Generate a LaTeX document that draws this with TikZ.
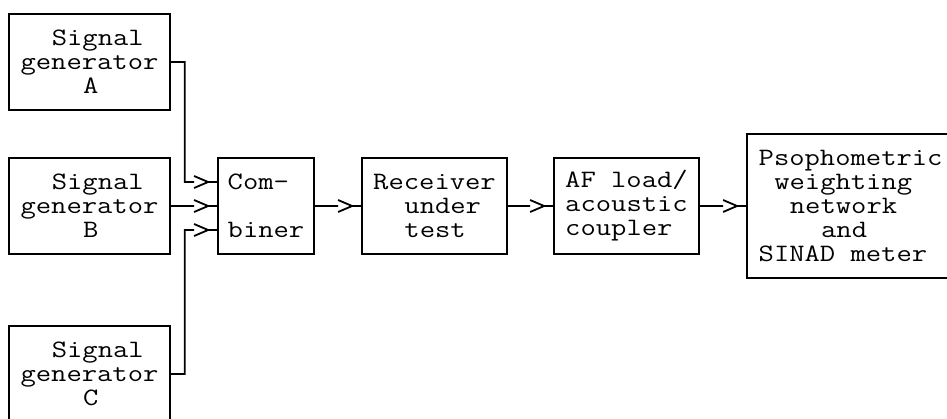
\documentclass[tikz,border=0pt]{standalone}
\usepackage{fontspec}
\setmonofont[FakeStretch=1.19]{Latin Modern Mono}
\usetikzlibrary{calc}
\newcommand\chsp[1]{\hspace*{#1\dimexpr 15.62pt\relax}}
\begin{document}
\begin{tikzpicture}[x=1pt,y=-1pt,
  box/.style={draw,line width=1.8pt,align=left,inner sep=0pt,
    font=\ttfamily\fontsize{25}{24}\selectfont},
  wire/.style={line width=1.8pt},
  chev/.style={to path={-- ($(\tikztotarget)+(-23,0)$) ++(0,-6) -- ++(14,6) -- ++(-14,6) ++(14,-6) -- (\tikztotarget)}}]
\fill[white] (0,0) rectangle (947,419);
\useasboundingbox (0,0) rectangle (947,419);
\node[box,minimum width=161,minimum height=96] (ga) at (89.5,62)
  {\chsp{2}Signal\\generator\\\chsp{4}A};
\node[box,minimum width=161,minimum height=96] (gb) at (89.5,206)
  {\chsp{2}Signal\\generator\\\chsp{4}B};
\node[box,minimum width=161,minimum height=96] (gc) at (89.5,374)
  {\chsp{2}Signal\\generator\\\chsp{4}C};
\node[box,minimum width=96,minimum height=96] (comb) at (266,206)
  {Com-\\\mbox{}\\biner};
\node[box,minimum width=145,minimum height=96] (rx) at (434.5,206)
  {Receiver\\\chsp{2}under\\\chsp{2}test};
\node[box,minimum width=145,minimum height=96] (af) at (626.5,206)
  {AF load/\\acoustic\\coupler};
\node[box,minimum width=207.2,minimum height=144] (ps) at (850.6,206)
  {Psophometric\\\chsp{1}weighting\\\chsp{2}network\\\chsp{4}and\\SINAD meter};
\coordinate (inA) at ($(comb.west)+(0,-24)$);
\coordinate (inC) at ($(comb.west)+(0,24)$);
\coordinate (jA) at ($(inA)+(-32.3,0)$);
\coordinate (jC) at ($(inC)+(-32.3,0)$);
\draw[wire] (ga.east) -| (jA) to[chev] (inA);
\draw[wire] (gb.east) to[chev] (comb.west);
\draw[wire] (gc.east) -| (jC) to[chev] (inC);
\draw[wire] (comb.east) to[chev] (rx.west);
\draw[wire] (rx.east) to[chev] (af.west);
\draw[wire] (af.east) to[chev] (ps.west);
\end{tikzpicture}
\end{document}
